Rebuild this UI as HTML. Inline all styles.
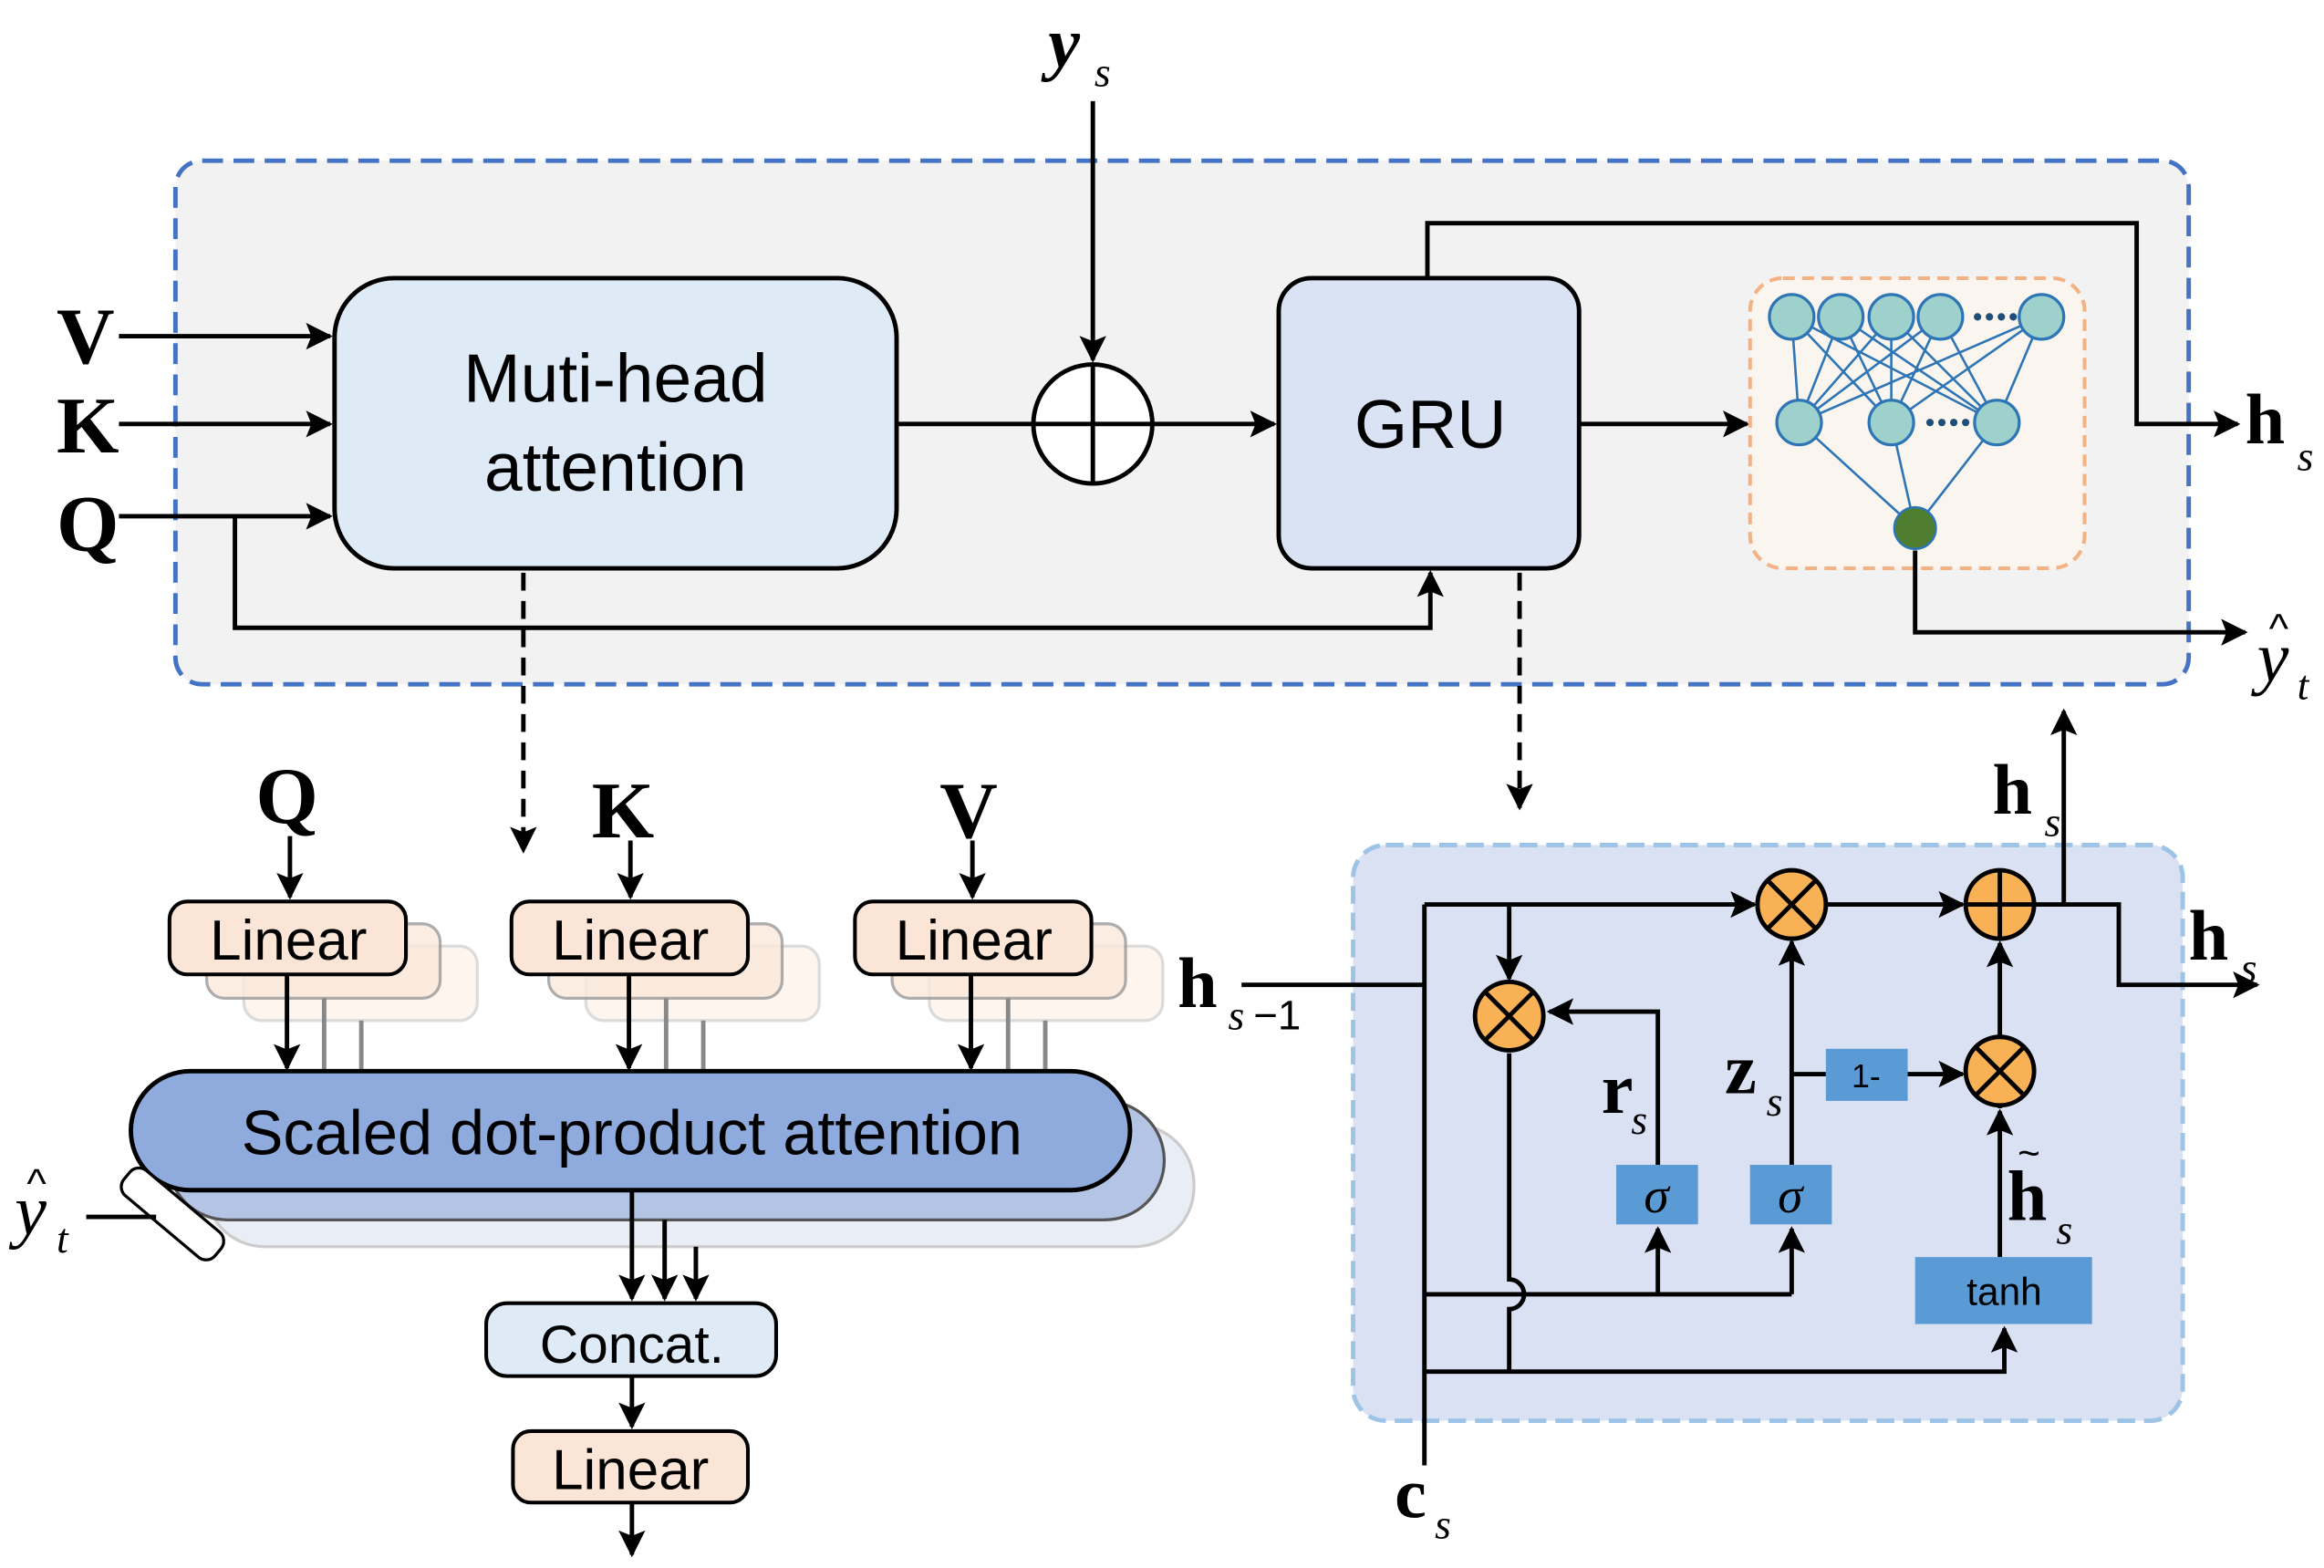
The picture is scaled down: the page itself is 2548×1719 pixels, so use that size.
<!DOCTYPE html>
<html><head><meta charset="utf-8"><style>html,body{margin:0;padding:0;background:#fff}svg{display:block}</style></head><body>
<svg width="2548" height="1719" viewBox="0 0 1563 1054" preserveAspectRatio="none" xmlns="http://www.w3.org/2000/svg">
<defs>
<marker id="a" viewBox="0 0 10 10" refX="9" refY="5" markerWidth="7" markerHeight="7" orient="auto-start-reverse" markerUnits="userSpaceOnUse"><path d="M0,0 L10,5 L0,10 z" fill="#000"/></marker>
<marker id="b" viewBox="0 0 10 10" refX="9" refY="5" markerWidth="22" markerHeight="18" orient="auto" markerUnits="userSpaceOnUse"><path d="M0,0 L10,5 L0,10 L2,5 z" fill="#000"/></marker>
</defs>
<style>
.s{stroke:#000;stroke-width:3;fill:none}
.t{font-family:"Liberation Sans",sans-serif;fill:#000}
.m{font-family:"Liberation Serif",serif;font-weight:bold;fill:#000}
.i{font-family:"Liberation Serif",serif;font-style:italic;fill:#000}
</style>
<!-- top container -->
<rect x="118" y="108" width="1354" height="352" rx="18" fill="#f2f2f2" stroke="#4472c4" stroke-width="3" stroke-dasharray="14,7"/>
<rect x="225" y="187" width="378" height="195" rx="40" fill="#deebf7" stroke="#000" stroke-width="3"/>
<text x="414" y="270" class="t" font-size="46" text-anchor="middle">Muti-head</text>
<text x="414" y="330" class="t" font-size="46" text-anchor="middle">attention</text>
<text x="38" y="244" class="m" font-size="54">V</text>
<text x="38" y="304" class="m" font-size="54">K</text>
<text x="38" y="370" class="m" font-size="54">Q</text>
<path class="s" d="M80,226 H222" marker-end="url(#b)"/>
<path class="s" d="M80,285 H222" marker-end="url(#b)"/>
<path class="s" d="M80,347 H222" marker-end="url(#b)"/>
<path class="s" d="M158,347 V422 H962 V385" marker-end="url(#b)"/>
<circle cx="735" cy="285" r="40" fill="#fff" stroke="#000" stroke-width="3"/>
<path class="s" d="M695,285 H775 M735,245 V325"/>
<text x="705" y="45" class="m" font-size="48" font-style="italic">y</text><text x="736" y="58" class="i" font-size="28">s</text>
<path class="s" d="M735,68 V242" marker-end="url(#b)"/>
<path class="s" d="M603,285 H695"/>
<path class="s" d="M775,285 H857" marker-end="url(#b)"/>
<rect x="860" y="187" width="202" height="195" rx="22" fill="#dae3f3" stroke="#000" stroke-width="3"/>
<text x="962" y="301" class="t" font-size="46" text-anchor="middle">GRU</text>
<path class="s" d="M1062,285 H1175" marker-end="url(#b)"/>
<rect x="1177" y="187" width="225" height="195" rx="22" fill="#fbf5ef" stroke="#f4b183" stroke-width="2.5" stroke-dasharray="8,5"/>
<g stroke="#2e75b6" stroke-width="1.6">
<path d="M1205,213 L1210,284 M1205,213 L1272,284 M1205,213 L1343,284 M1238,213 L1210,284 M1238,213 L1272,284 M1238,213 L1343,284 M1272,213 L1210,284 M1272,213 L1272,284 M1272,213 L1343,284 M1305,213 L1210,284 M1305,213 L1272,284 M1305,213 L1343,284 M1373,213 L1210,284 M1373,213 L1272,284 M1373,213 L1343,284 M1210,284 L1288,355 M1272,284 L1288,355 M1343,284 L1288,355"/>
</g>
<g fill="#9fd1cc" stroke="#2e75b6" stroke-width="2">
<circle cx="1205" cy="213" r="15"/><circle cx="1238" cy="213" r="15"/><circle cx="1272" cy="213" r="15"/><circle cx="1305" cy="213" r="15"/><circle cx="1373" cy="213" r="15"/>
<circle cx="1210" cy="284" r="15"/><circle cx="1272" cy="284" r="15"/><circle cx="1343" cy="284" r="15"/>
</g>
<circle cx="1288" cy="355" r="14" fill="#4e7d2f" stroke="#2e75b6" stroke-width="1.5"/>
<g fill="#1f4e79"><circle cx="1330" cy="213" r="2.5"/><circle cx="1338" cy="213" r="2.5"/><circle cx="1346" cy="213" r="2.5"/><circle cx="1354" cy="213" r="2.5"/><circle cx="1298" cy="284" r="2.5"/><circle cx="1306" cy="284" r="2.5"/><circle cx="1314" cy="284" r="2.5"/><circle cx="1322" cy="284" r="2.5"/></g>
<path class="s" d="M960,187 V150 H1437 V285 H1505" marker-end="url(#b)"/>
<text x="1510" y="298" class="m" font-size="48">h</text><text x="1545" y="316" class="i" font-size="28">s</text>
<path class="s" d="M1288,370 V425 H1510" marker-end="url(#b)"/>
<text x="1518" y="458" class="i" font-size="48">y</text><text x="1526" y="432" class="t" font-size="28">^</text><text x="1545" y="470" class="i" font-size="28">t</text>
<path class="s" d="M352,385 V572" stroke-dasharray="12,7" marker-end="url(#b)"/>
<path class="s" d="M1022,385 V543" stroke-dasharray="12,7" marker-end="url(#b)"/>
<!-- lower left -->
<g>
<rect x="164" y="636" width="157" height="50" rx="12" fill="#fdf1e8" stroke="#ccc" stroke-width="2" opacity="0.7"/>
<rect x="139" y="621" width="157" height="50" rx="12" fill="#fbe9dc" stroke="#999" stroke-width="2" opacity="0.8"/>
<rect x="394" y="636" width="157" height="50" rx="12" fill="#fdf1e8" stroke="#ccc" stroke-width="2" opacity="0.7"/>
<rect x="369" y="621" width="157" height="50" rx="12" fill="#fbe9dc" stroke="#999" stroke-width="2" opacity="0.8"/>
<rect x="625" y="636" width="157" height="50" rx="12" fill="#fdf1e8" stroke="#ccc" stroke-width="2" opacity="0.7"/>
<rect x="600" y="621" width="157" height="50" rx="12" fill="#fbe9dc" stroke="#999" stroke-width="2" opacity="0.8"/>
</g>
<rect x="114" y="606" width="159" height="49" rx="12" fill="#fbe5d6" stroke="#000" stroke-width="2.5"/>
<rect x="344" y="606" width="159" height="49" rx="12" fill="#fbe5d6" stroke="#000" stroke-width="2.5"/>
<rect x="575" y="606" width="159" height="49" rx="12" fill="#fbe5d6" stroke="#000" stroke-width="2.5"/>
<text x="194" y="645" class="t" font-size="38" text-anchor="middle">Linear</text>
<text x="424" y="645" class="t" font-size="38" text-anchor="middle">Linear</text>
<text x="655" y="645" class="t" font-size="38" text-anchor="middle">Linear</text>
<text x="172" y="553" class="m" font-size="54">Q</text>
<text x="398" y="563" class="m" font-size="54">K</text>
<text x="632" y="563" class="m" font-size="54">V</text>
<path class="s" d="M195,562 V603" marker-end="url(#b)"/>
<path class="s" d="M424,565 V603" marker-end="url(#b)"/>
<path class="s" d="M654,565 V603" marker-end="url(#b)"/>
<path d="M218,671 V720 M243,686 V720 M448,671 V720 M473,686 V720 M678,671 V720 M703,686 V720" stroke="#888" stroke-width="3"/>
<rect x="138" y="756" width="665" height="82" rx="40" fill="#e9edf5" stroke="#ccc" stroke-width="2"/>
<rect x="113" y="740" width="670" height="80" rx="40" fill="#b4c4e4" stroke="#555" stroke-width="2"/>
<path class="s" d="M193,655 V718" marker-end="url(#b)"/>
<path class="s" d="M423,655 V718" marker-end="url(#b)"/>
<path class="s" d="M653,655 V718" marker-end="url(#b)"/>
<rect x="88" y="720" width="672" height="80" rx="40" fill="#8faadc" stroke="#000" stroke-width="3"/>
<text x="425" y="776" class="t" font-size="42" text-anchor="middle">Scaled dot-product attention</text>
<rect x="76" y="805" width="80" height="22" rx="8" transform="rotate(40 116 816)" fill="#fff" stroke="#000" stroke-width="2"/>
<path class="s" d="M58,818 H105"/>
<text x="10" y="830" class="i" font-size="48">y</text><text x="18" y="805" class="t" font-size="28">^</text><text x="38" y="842" class="i" font-size="28">t</text>
<path class="s" d="M425,800 V873" marker-end="url(#b)"/>
<path class="s" d="M447,820 V873" marker-end="url(#b)"/>
<path class="s" d="M468,838 V873" marker-end="url(#b)"/>
<rect x="327" y="876" width="195" height="49" rx="14" fill="#deebf7" stroke="#000" stroke-width="2.5"/>
<text x="425" y="916" class="t" font-size="36" text-anchor="middle">Concat.</text>
<path class="s" d="M425,925 V959" marker-end="url(#b)"/>
<rect x="345" y="962" width="158" height="48" rx="12" fill="#fbe5d6" stroke="#000" stroke-width="2.5"/>
<text x="424" y="1001" class="t" font-size="38" text-anchor="middle">Linear</text>
<path class="s" d="M425,1010 V1045" marker-end="url(#b)"/>
<!-- GRU detail -->
<rect x="910" y="568" width="558" height="387" rx="22" fill="#d9e1f2" stroke="#9dc3e6" stroke-width="3" stroke-dasharray="12,6"/>
<text x="792" y="677" class="m" font-size="48">h</text><text x="826" y="692" class="i" font-size="28">s</text><text x="843" y="692" class="t" font-size="28">−1</text>
<path class="s" d="M835,662 H958"/>
<path class="s" d="M958,608 V985"/>
<text x="938" y="1020" class="m" font-size="48">c</text><text x="965" y="1034" class="i" font-size="28">s</text>
<path class="s" d="M958,608 H1180" marker-end="url(#b)"/>
<path class="s" d="M1228,608 H1320" marker-end="url(#b)"/>
<path class="s" d="M1368,608 H1425 V662 H1518" marker-end="url(#b)"/>
<path class="s" d="M1388,608 V478" marker-end="url(#b)"/>
<text x="1340" y="547" class="m" font-size="48">h</text><text x="1375" y="562" class="i" font-size="28">s</text>
<text x="1472" y="645" class="m" font-size="48">h</text><text x="1507" y="660" class="i" font-size="28">s</text>
<path class="s" d="M1015,608 V658" marker-end="url(#b)"/>
<path class="s" d="M1015,708 V860 A10,10 0 0 1 1015,880 V922"/>
<path class="s" d="M958,870 H1205"/>
<path class="s" d="M1115,870 V826" marker-end="url(#b)"/>
<path class="s" d="M1205,870 V826" marker-end="url(#b)"/>
<rect x="1087" y="783" width="55" height="40" fill="#5b9bd5"/>
<rect x="1177" y="783" width="55" height="40" fill="#5b9bd5"/>
<text x="1114" y="815" class="i" font-size="34" text-anchor="middle">σ</text>
<text x="1204" y="815" class="i" font-size="34" text-anchor="middle">σ</text>
<path class="s" d="M1115,783 V680 H1042" marker-end="url(#b)"/>
<text x="1077" y="748" class="m" font-size="48">r</text><text x="1097" y="762" class="i" font-size="28">s</text>
<path class="s" d="M1205,783 V633" marker-end="url(#b)"/>
<text x="1160" y="735" class="m" font-size="48">z</text><text x="1188" y="750" class="i" font-size="28">s</text>
<path class="s" d="M1205,722 H1228"/>
<rect x="1228" y="705" width="55" height="35" fill="#5b9bd5"/>
<text x="1255" y="731" class="t" font-size="22" text-anchor="middle">1-</text>
<path class="s" d="M1283,722 H1320" marker-end="url(#b)"/>
<path class="s" d="M1345,745 V634" marker-end="url(#b)"/>
<path class="s" d="M1345,845 V747" marker-end="url(#b)"/>
<text x="1350" y="820" class="m" font-size="48">h</text><text x="1357" y="784" class="t" font-size="26">~</text><text x="1383" y="836" class="i" font-size="28">s</text>
<rect x="1288" y="845" width="119" height="45" fill="#5b9bd5"/>
<text x="1348" y="877" class="t" font-size="26" text-anchor="middle" font-family="Liberation Serif">tanh</text>
<path class="s" d="M958,922 H1348 V893" marker-end="url(#b)"/>
<g fill="#f8b155" stroke="#000" stroke-width="3">
<circle cx="1205" cy="608" r="23"/><circle cx="1015" cy="683" r="23"/><circle cx="1345" cy="720" r="23"/><circle cx="1345" cy="608" r="23"/>
</g>
<path class="s" d="M1189,592 L1221,624 M1221,592 L1189,624 M999,667 L1031,699 M1031,667 L999,699 M1329,704 L1361,736 M1361,704 L1329,736 M1322,608 H1368 M1345,585 V631"/>
</svg>
</body></html>
